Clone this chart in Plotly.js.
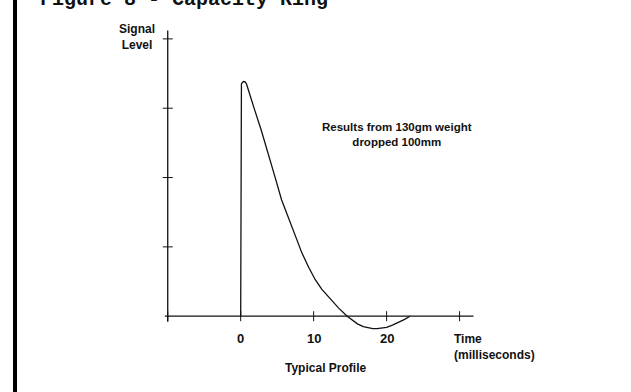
<!DOCTYPE html>
<html>
<head>
<meta charset="utf-8">
<script src="https://cdn.plot.ly/plotly-3.0.1.min.js"></script>
<style>html,body{margin:0;padding:0;background:#fff;}#chart{width:631px;height:392px;}</style>
</head>
<body>
<div id="chart"></div>
<script>
// Time (milliseconds) and signal level
const timeMs = [0, 0, 0.1, 0.25, 0.4, 0.6, 0.8, 1.0, 1.4, 1.9, 2.8, 3.8, 4.7, 5.6, 7.0, 8.4, 9.3, 10.2, 11.1, 12.0, 13.4, 14.6, 15.3, 16.0, 16.8, 17.5, 18.1, 18.7, 19.4, 20.0, 20.8, 21.5, 22.4, 23.2];
const signal = [0, 3.30, 3.35, 3.375, 3.385, 3.38, 3.35, 3.28, 3.14, 2.98, 2.69, 2.35, 2.01, 1.68, 1.29, 0.91, 0.71, 0.53, 0.39, 0.28, 0.12, 0, -0.06, -0.11, -0.15, -0.17, -0.18, -0.18, -0.175, -0.16, -0.13, -0.1, -0.05, 0];
const xTickVals = [-10, 0, 10, 20, 30];
const xLabelVals = [0, 10, 20];
const xLabelText = ['0', '10', '20'];
const yTickVals = [1, 2, 3, 4];

const FONT = 'Liberation Sans, Arial, sans-serif';
const ink = '#111111';

const shapes = [];
// axes
shapes.push({type:'line', xref:'x', yref:'y', x0:-10.4, x1:31.9, y0:0, y1:0, line:{color:ink, width:1.3}});
shapes.push({type:'line', xref:'x', yref:'y', x0:-10, x1:-10, y0:-0.08, y1:4.12, line:{color:ink, width:1.3}});
// crossing tick marks
xTickVals.forEach(v => shapes.push({type:'line', xref:'x', yref:'y', ysizemode:'pixel', yanchor:0, y0:-5, y1:5, x0:v, x1:v, line:{color:ink, width:1}}));
yTickVals.forEach(v => shapes.push({type:'line', xref:'x', yref:'y', xsizemode:'pixel', xanchor:-10, x0:-5, x1:5, y0:v, y1:v, line:{color:ink, width:1}}));
// left page border
shapes.push({type:'line', xref:'paper', yref:'paper', x0:(15-160)/320, x1:(15-160)/320, y0:-0.3, y1:1.2, line:{color:'#000', width:4}});

const px = (p) => (p-160)/320;      // page x pixel -> paper
const py = (p) => (337-p)/309;      // page y pixel -> paper

const annotations = [
  {text:'Signal<br>Level', xref:'paper', yref:'paper', x:px(137), y:py(37), xanchor:'center', yanchor:'middle', showarrow:false, font:{family:FONT, size:12, color:ink, weight:'bold'}, align:'center'},
  {text:'Results from 130gm weight<br>dropped 100mm', xref:'paper', yref:'paper', x:px(397), y:py(134), xanchor:'center', yanchor:'middle', showarrow:false, font:{family:FONT, size:11.5, color:ink, weight:'bold'}, align:'center'},
  {text:'Time<br>(milliseconds)', xref:'paper', yref:'paper', x:px(452), y:py(347), xanchor:'left', yanchor:'middle', showarrow:false, font:{family:FONT, size:12, color:ink, weight:'bold'}, align:'left'},
  {text:'Typical Profile', xref:'paper', yref:'paper', x:px(325), y:py(368), xanchor:'center', yanchor:'middle', showarrow:false, font:{family:FONT, size:12, color:ink, weight:'bold'}},
  {text:'Figure 8 - Capacity Ring', xref:'paper', yref:'paper', x:px(38), y:py(13), xanchor:'left', yanchor:'bottom', showarrow:false, font:{family:'Liberation Mono, Courier New, monospace', size:20, color:ink, weight:'bold'}}
];
// x tick labels, placed below the zero line
xLabelVals.forEach((v, i) => annotations.push({text:xLabelText[i], xref:'x', yref:'y', x:v, y:0, yshift:-22, xanchor:'center', yanchor:'middle', showarrow:false, font:{family:FONT, size:13, color:ink, weight:'bold'}}));

const trace = {x: timeMs, y: signal, type:'scatter', mode:'lines', line:{color:ink, width:1.3, shape:'linear'}, hoverinfo:'skip'};

const layout = {
  width:631, height:392,
  margin:{l:160, r:151, t:28, b:55},
  paper_bgcolor:'#fff', plot_bgcolor:'#fff',
  showlegend:false,
  xaxis:{range:[-11.06, 32.8], showgrid:false, zeroline:false, showline:false, ticks:'', showticklabels:false, fixedrange:true},
  yaxis:{range:[-0.3, 4.157], showgrid:false, zeroline:false, showline:false, ticks:'', showticklabels:false, fixedrange:true},
  shapes: shapes,
  annotations: annotations
};

Plotly.newPlot('chart', [trace], layout, {staticPlot:true, displayModeBar:false});
</script>
</body>
</html>
